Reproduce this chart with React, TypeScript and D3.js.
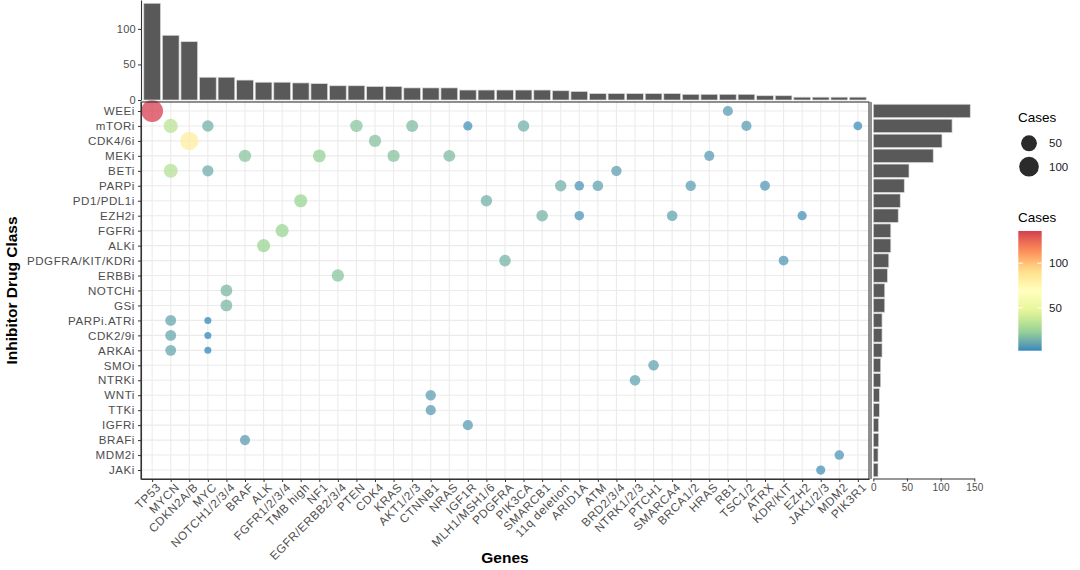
import { useEffect, useRef } from 'react';
import * as d3 from 'd3';

const WIDTH = 1080;
const HEIGHT = 570;
const FONT = '"Liberation Sans", Arial, Helvetica, sans-serif';

const MAIN = { left: 141, right: 869, top: 102, bottom: 479 };
const TOP_BOTTOM = 100; // baseline of the gene bar chart
const SIDE = { zero: 873.3, end: 974.3 };

const genes = [
  'TP53', 'MYCN', 'CDKN2A/B', 'MYC', 'NOTCH1/2/3/4', 'BRAF', 'ALK', 'FGFR1/2/3/4', 'TMB high', 'NF1',
  'EGFR/ERBB2/3/4', 'PTEN', 'CDK4', 'KRAS', 'AKT1/2/3', 'CTNNB1', 'NRAS', 'IGF1R', 'MLH1/MSH1/6', 'PDGFRA',
  'PIK3CA', 'SMARCB1', '11q deletion', 'ARID1A', 'ATM', 'BRD2/3/4', 'NTRK1/2/3', 'PTCH1', 'SMARCA4', 'BRCA1/2',
  'HRAS', 'RB1', 'TSC1/2', 'ATRX', 'KDR/KIT', 'EZH2', 'JAK1/2/3', 'MDM2', 'PIK3R1',
];
const geneTotals = [
  136, 91, 82, 32, 32, 28, 25, 25, 24, 23,
  20, 20, 19, 19, 17, 17, 17, 14, 14, 14,
  14, 14, 13, 12, 9, 9, 9, 9, 9, 8,
  8, 8, 8, 6, 6, 4, 4, 4, 4,
];

const drugs = [
  'WEEi', 'mTORi', 'CDK4/6i', 'MEKi', 'BETi', 'PARPi', 'PD1/PDL1i', 'EZH2i', 'FGFRi', 'ALKi',
  'PDGFRA/KIT/KDRi', 'ERBBi', 'NOTCHi', 'GSi', 'PARPi.ATRi', 'CDK2/9i', 'ARKAi', 'SMOi', 'NTRKi', 'WNTi',
  'TTKi', 'IGFRi', 'BRAFi', 'MDM2i', 'JAKi',
];
const drugTotals = [
  144, 117, 102, 89, 53, 46, 40, 37, 26, 26,
  23, 21, 17, 17, 13, 13, 13, 11, 11, 9,
  9, 8, 8, 7, 7,
];

// gene, drug class, cases
const cases: [string, string, number][] = [
  ['TP53', 'WEEi', 136], ['RB1', 'WEEi', 8],
  ['MYCN', 'mTORi', 34], ['MYC', 'mTORi', 14], ['PTEN', 'mTORi', 20], ['AKT1/2/3', 'mTORi', 17],
  ['IGF1R', 'mTORi', 5], ['PIK3CA', 'mTORi', 14], ['TSC1/2', 'mTORi', 8], ['PIK3R1', 'mTORi', 4],
  ['CDKN2A/B', 'CDK4/6i', 82], ['CDK4', 'CDK4/6i', 19],
  ['BRAF', 'MEKi', 20], ['NF1', 'MEKi', 23], ['KRAS', 'MEKi', 19], ['NRAS', 'MEKi', 17], ['HRAS', 'MEKi', 8],
  ['MYCN', 'BETi', 32], ['MYC', 'BETi', 13], ['BRD2/3/4', 'BETi', 9],
  ['11q deletion', 'PARPi', 14], ['ARID1A', 'PARPi', 6], ['ATM', 'PARPi', 10], ['BRCA1/2', 'PARPi', 9], ['ATRX', 'PARPi', 7],
  ['TMB high', 'PD1/PDL1i', 25], ['MLH1/MSH1/6', 'PD1/PDL1i', 14],
  ['SMARCB1', 'EZH2i', 15], ['ARID1A', 'EZH2i', 6], ['SMARCA4', 'EZH2i', 10], ['EZH2', 'EZH2i', 5],
  ['FGFR1/2/3/4', 'FGFRi', 25],
  ['ALK', 'ALKi', 25],
  ['PDGFRA', 'PDGFRA/KIT/KDRi', 15], ['KDR/KIT', 'PDGFRA/KIT/KDRi', 7],
  ['EGFR/ERBB2/3/4', 'ERBBi', 20],
  ['NOTCH1/2/3/4', 'NOTCHi', 16], ['NOTCH1/2/3/4', 'GSi', 16],
  ['MYCN', 'PARPi.ATRi', 11], ['MYC', 'PARPi.ATRi', 2],
  ['MYCN', 'CDK2/9i', 11], ['MYC', 'CDK2/9i', 2],
  ['MYCN', 'ARKAi', 11], ['MYC', 'ARKAi', 2],
  ['PTCH1', 'SMOi', 10],
  ['NTRK1/2/3', 'NTRKi', 10],
  ['CTNNB1', 'WNTi', 9], ['CTNNB1', 'TTKi', 8],
  ['IGF1R', 'IGFRi', 8],
  ['BRAF', 'BRAFi', 8],
  ['MDM2', 'MDM2i', 6],
  ['JAK1/2/3', 'JAKi', 5],
];

const spectralRev = ['#3288BD', '#99D594', '#E6F598', '#FFFFBF', '#FEE08B', '#FC8D59', '#D53E4F'];
const sizeLegend = [50, 100];
const colorLegend = [50, 100];
const topTicks = [0, 50, 100];
const sideTicks = [0, 50, 100, 150];

function styleAxis(g: d3.Selection<SVGGElement, unknown, null, undefined>, size: number, spacing = 0) {
  g.select('.domain').attr('stroke', '#333').attr('stroke-width', 1.1);
  g.selectAll('.tick line').attr('stroke', '#333').attr('stroke-width', 1);
  g.selectAll('.tick text')
    .attr('fill', '#4d4d4d')
    .attr('font-size', size)
    .attr('letter-spacing', spacing)
    .attr('font-family', FONT);
}

function draw(svgEl: SVGSVGElement) {
  const svg = d3.select(svgEl);
  svg.selectAll('*').remove();

  const x = d3.scalePoint<string>().domain(genes).range([MAIN.left, MAIN.right]).padding(0.6);
  const y = d3.scalePoint<string>().domain(drugs).range([MAIN.top, MAIN.bottom]).padding(0.6);
  const xStep = x.step();
  const yStep = y.step();

  const allCases = cases.map((c) => c[2]);
  const minC = d3.min(allCases) ?? 0;
  const maxC = d3.max(allCases) ?? 1;
  const color = d3
    .scaleLinear<string>()
    .domain(spectralRev.map((_, i) => minC + (i * (maxC - minC)) / (spectralRev.length - 1)))
    .range(spectralRev)
    .interpolate(d3.interpolateLab);
  const rBase = d3.scaleSqrt().domain([0, maxC - minC]).range([3.5, 10.9]);
  const r = (v: number) => rBase(Math.max(0, v - minC));

  // ---- main panel
  const main = svg.append('g');
  main
    .append('rect')
    .attr('x', MAIN.left)
    .attr('y', MAIN.top)
    .attr('width', MAIN.right - MAIN.left)
    .attr('height', MAIN.bottom - MAIN.top)
    .attr('fill', '#fff');

  main
    .append('g')
    .selectAll('line')
    .data(genes)
    .join('line')
    .attr('x1', (d) => x(d)!)
    .attr('x2', (d) => x(d)!)
    .attr('y1', MAIN.top)
    .attr('y2', MAIN.bottom)
    .attr('stroke', '#ebebeb')
    .attr('stroke-width', 1.1);
  main
    .append('g')
    .selectAll('line')
    .data(drugs)
    .join('line')
    .attr('x1', MAIN.left)
    .attr('x2', MAIN.right)
    .attr('y1', (d) => y(d)!)
    .attr('y2', (d) => y(d)!)
    .attr('stroke', '#ebebeb')
    .attr('stroke-width', 1.1);

  main
    .append('g')
    .selectAll('circle')
    .data(cases)
    .join('circle')
    .attr('cx', (d) => x(d[0])!)
    .attr('cy', (d) => y(d[1])!)
    .attr('r', (d) => r(d[2]))
    .attr('fill', (d) => color(d[2]))
    .attr('fill-opacity', 0.75);

  main
    .append('rect')
    .attr('x', MAIN.left)
    .attr('y', MAIN.top)
    .attr('width', MAIN.right - MAIN.left)
    .attr('height', MAIN.bottom - MAIN.top)
    .attr('fill', 'none')
    .attr('stroke', '#333')
    .attr('stroke-width', 1.1);

  const yAxis = main
    .append('g')
    .attr('transform', `translate(${MAIN.left},0)`)
    .call(d3.axisLeft(y).tickSize(3).tickSizeOuter(0).tickPadding(3));
  styleAxis(yAxis, 11.6, 0.55);

  const xAxis = main
    .append('g')
    .attr('transform', `translate(0,${MAIN.bottom})`)
    .call(d3.axisBottom(x).tickSize(3).tickSizeOuter(0));
  styleAxis(xAxis, 11.8, 0.6);
  xAxis
    .selectAll('.tick text')
    .attr('x', 0)
    .attr('y', 0)
    .attr('dy', '0.72em')
    .attr('text-anchor', 'end')
    .attr('transform', 'translate(3,3) rotate(-45)');

  // ---- gene totals on top
  const yTop = d3.scaleLinear().domain([0, 140.6]).range([TOP_BOTTOM, 0]);
  svg
    .append('g')
    .selectAll('rect')
    .data(genes)
    .join('rect')
    .attr('x', (d) => x(d)! - xStep * 0.45)
    .attr('width', xStep * 0.9)
    .attr('y', (_, i) => yTop(geneTotals[i]))
    .attr('height', (_, i) => TOP_BOTTOM - yTop(geneTotals[i]))
    .attr('fill', '#595959')
    .attr('stroke', '#d9d9d9')
    .attr('stroke-width', 0.7);
  const topAxis = svg
    .append('g')
    .attr('transform', `translate(${MAIN.left},0)`)
    .call(d3.axisLeft(yTop).tickValues(topTicks).tickSize(3).tickSizeOuter(0).tickPadding(2));
  styleAxis(topAxis, 11, 0.3);

  // ---- drug totals on the right
  const xSide = d3.scaleLinear().domain([0, 150]).range([SIDE.zero, SIDE.end]);
  svg
    .append('g')
    .selectAll('rect')
    .data(drugs)
    .join('rect')
    .attr('x', xSide(0))
    .attr('y', (d) => y(d)! - yStep * 0.45)
    .attr('height', yStep * 0.9)
    .attr('width', (_, i) => xSide(drugTotals[i]) - xSide(0))
    .attr('fill', '#595959')
    .attr('stroke', '#d9d9d9')
    .attr('stroke-width', 0.7);
  svg
    .append('line')
    .attr('x1', 871)
    .attr('x2', 871)
    .attr('y1', MAIN.top)
    .attr('y2', MAIN.bottom)
    .attr('stroke', '#333')
    .attr('stroke-width', 1.1);
  const sideAxis = svg
    .append('g')
    .attr('transform', `translate(0,${MAIN.bottom - 0.5})`)
    .call(d3.axisBottom(xSide).tickValues(sideTicks).tickSize(3).tickSizeOuter(0).tickPadding(2));
  styleAxis(sideAxis, 10, 0.2);

  // ---- axis titles
  svg
    .append('text')
    .attr('transform', `translate(12,${(MAIN.top + MAIN.bottom) / 2}) rotate(-90)`)
    .attr('text-anchor', 'middle')
    .attr('dy', '0.35em')
    .attr('font-family', FONT)
    .attr('font-weight', 'bold')
    .attr('font-size', 15.5)
    .text('Inhibitor Drug Class');
  svg
    .append('text')
    .attr('x', (MAIN.left + MAIN.right) / 2)
    .attr('y', 558)
    .attr('text-anchor', 'middle')
    .attr('dy', '0.35em')
    .attr('font-family', FONT)
    .attr('font-weight', 'bold')
    .attr('font-size', 15.5)
    .text('Genes');

  // ---- legends
  const leg = svg.append('g').attr('font-family', FONT);
  leg.append('text').attr('x', 1018).attr('y', 117).attr('dy', '0.35em').attr('font-size', 13.5).text('Cases');
  const sizeRows = [143.3, 166.7];
  sizeLegend.forEach((v, i) => {
    leg.append('circle').attr('cx', 1029).attr('cy', sizeRows[i]).attr('r', r(v)).attr('fill', '#2b2b2b');
    leg
      .append('text')
      .attr('x', 1049)
      .attr('y', sizeRows[i])
      .attr('dy', '0.35em')
      .attr('font-size', 11.5)
      .attr('fill', '#1a1a1a')
      .text(v);
  });

  leg.append('text').attr('x', 1018).attr('y', 217).attr('dy', '0.35em').attr('font-size', 13.5).text('Cases');
  const bar = { x: 1018.3, y: 231, w: 23.4, h: 119.7 };
  const defs = svg.append('defs');
  const grad = defs
    .append('linearGradient')
    .attr('id', 'casesGrad')
    .attr('x1', 0)
    .attr('x2', 0)
    .attr('y1', 1)
    .attr('y2', 0);
  d3.range(0, 1.0001, 0.05).forEach((t) => {
    grad
      .append('stop')
      .attr('offset', t)
      .attr('stop-color', color(minC + t * (maxC - minC)));
  });
  leg
    .append('rect')
    .attr('x', bar.x)
    .attr('y', bar.y)
    .attr('width', bar.w)
    .attr('height', bar.h)
    .attr('fill', 'url(#casesGrad)');
  const barY = d3.scaleLinear().domain([minC, maxC]).range([bar.y + bar.h, bar.y]);
  colorLegend.forEach((v) => {
    const yy = barY(v);
    leg.append('line').attr('x1', bar.x).attr('x2', bar.x + 4.5).attr('y1', yy).attr('y2', yy).attr('stroke', '#fff');
    leg
      .append('line')
      .attr('x1', bar.x + bar.w - 4.5)
      .attr('x2', bar.x + bar.w)
      .attr('y1', yy)
      .attr('y2', yy)
      .attr('stroke', '#fff');
    leg
      .append('text')
      .attr('x', 1049)
      .attr('y', yy)
      .attr('dy', '0.35em')
      .attr('font-size', 11.5)
      .attr('fill', '#1a1a1a')
      .text(v);
  });
}

export default function App() {
  const svgRef = useRef<SVGSVGElement>(null);

  useEffect(() => {
    if (!svgRef.current) return;
    draw(svgRef.current);
  }, []);

  return (
    <div style={{ position: 'absolute', left: 0, top: 0, width: WIDTH, height: HEIGHT, background: '#fff' }}>
      <svg ref={svgRef} width={WIDTH} height={HEIGHT} style={{ display: 'block' }} />
    </div>
  );
}
